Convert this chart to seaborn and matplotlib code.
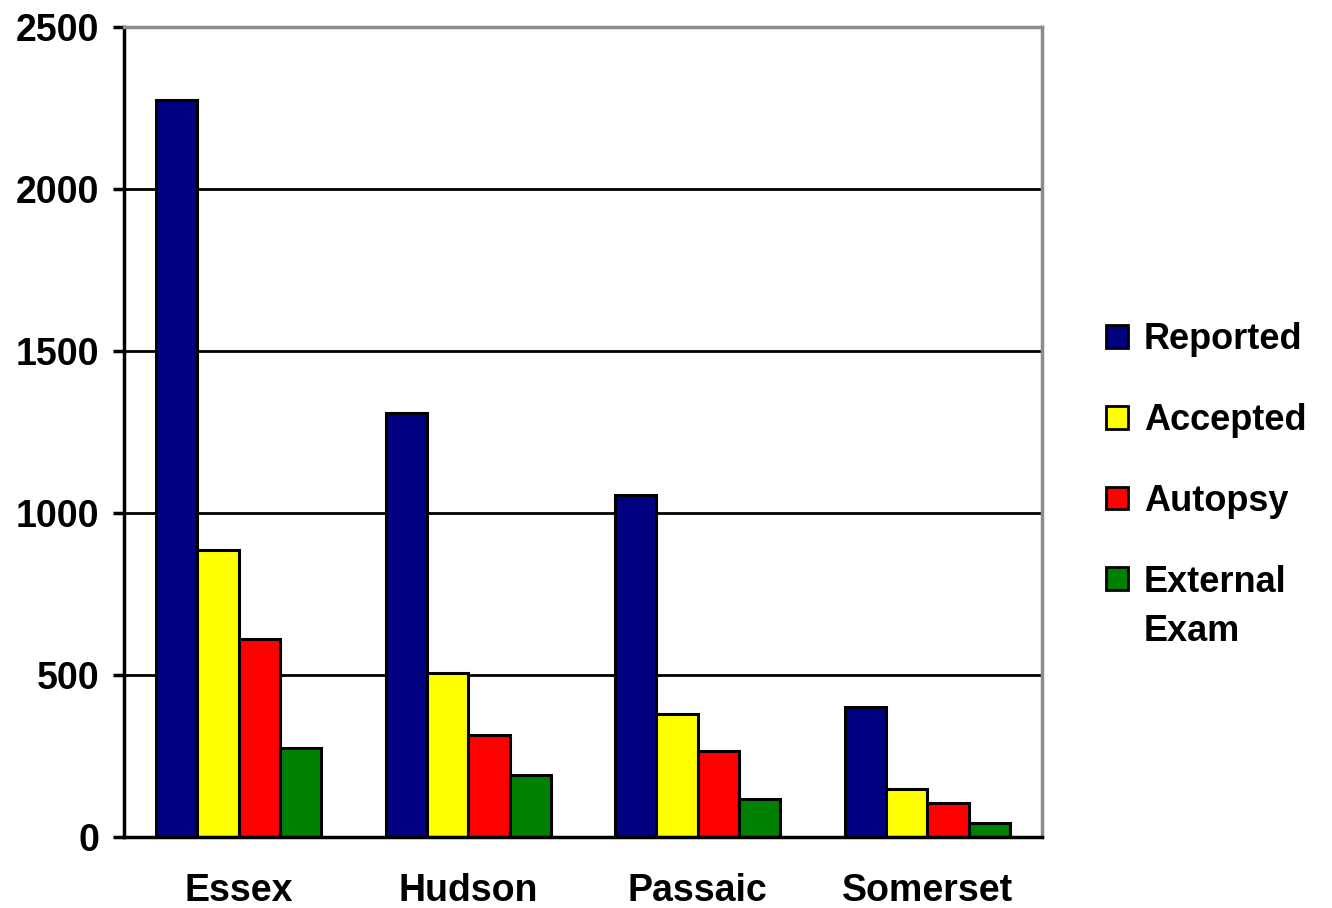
import pandas as pd
import matplotlib.pyplot as plt
import seaborn as sns

# =========================
# DATA
# =========================
counties = ["Essex", "Hudson", "Passaic", "Somerset"]
series = ["Reported", "Accepted", "Autopsy", "External Exam"]
reported = [2275, 1309, 1056, 401]
accepted = [886, 506, 380, 148]
autopsy = [611, 315, 265, 105]
external = [275, 191, 117, 43]
colors = ["#000080", "#FFFF00", "#FF0000", "#008000"]

df = pd.DataFrame({
    "County": counties * 4,
    "Type": [s for s in series for _ in counties],
    "Count": reported + accepted + autopsy + external,
})

# =========================
# PLOT
# =========================
sns.set_style("white")
plt.rcParams['font.family'] = ['Liberation Sans', 'DejaVu Sans']
plt.rcParams['font.weight'] = 'bold'
plt.rcParams['text.color'] = 'black'
plt.rcParams['xtick.color'] = 'black'
plt.rcParams['ytick.color'] = 'black'

fig = plt.figure(figsize=(13.32, 9.08), dpi=100)
ax = fig.add_axes([0.0931, 0.0782, 0.6892, 0.8921])

sns.barplot(data=df, x="County", y="Count", hue="Type", palette=colors,
            width=0.72, gap=0, saturation=1, edgecolor="black", linewidth=2.2,
            ax=ax, legend=False)

ax.set_ylim(0, 2500)
ax.set_xlim(-0.5, 3.5)
ax.set_yticks([0, 500, 1000, 1500, 2000, 2500])
ax.yaxis.grid(True, color="black", linewidth=2)
ax.set_axisbelow(True)

ax.set_xlabel("")
ax.set_ylabel("")

# category boundary ticks
ax.set_xticks([-0.5, 0.5, 1.5, 2.5, 3.5], minor=True)
ax.tick_params(axis="x", which="minor", direction="in", length=8, width=2.5, color="black")
ax.tick_params(axis="x", which="major", length=0, pad=26, labelsize=27)
ax.tick_params(axis="y", direction="out", length=8, width=2.5, color="black",
               left=True, labelsize=27, pad=10)

for lab in ax.get_xticklabels() + ax.get_yticklabels():
    lab.set_fontweight("bold")

for side in ["left", "bottom"]:
    ax.spines[side].set_color("black")
    ax.spines[side].set_linewidth(2.5)
for side in ["top", "right"]:
    ax.spines[side].set_color("#8c8c8c")
    ax.spines[side].set_linewidth(2.5)

# legend: square patches, last label wraps with the square on its first line
from matplotlib.patches import Patch
handles = [Patch(facecolor=c, edgecolor="black", linewidth=2) for c in colors]
leg_labels = ["Reported", "Accepted", "Autopsy", "External"]
leg = fig.legend(handles, leg_labels, loc="upper left",
                 bbox_to_anchor=(1106 / 1332, (908 - 322) / 908),
                 frameon=False, prop={"size": 26, "weight": "bold"},
                 handlelength=0.6, handleheight=0.6, handletextpad=0.45,
                 labelspacing=1.27, borderpad=0, borderaxespad=0)

fig.canvas.draw()
last = leg.get_texts()[-1]
bb = last.get_window_extent()
x0, y0 = fig.transFigure.inverted().transform((bb.x0, bb.y0))
fig.text(x0, y0 - 49 / 908, "Exam", fontsize=26, fontweight="bold",
         va="bottom", ha="left")

plt.savefig("out.png", dpi=100)
